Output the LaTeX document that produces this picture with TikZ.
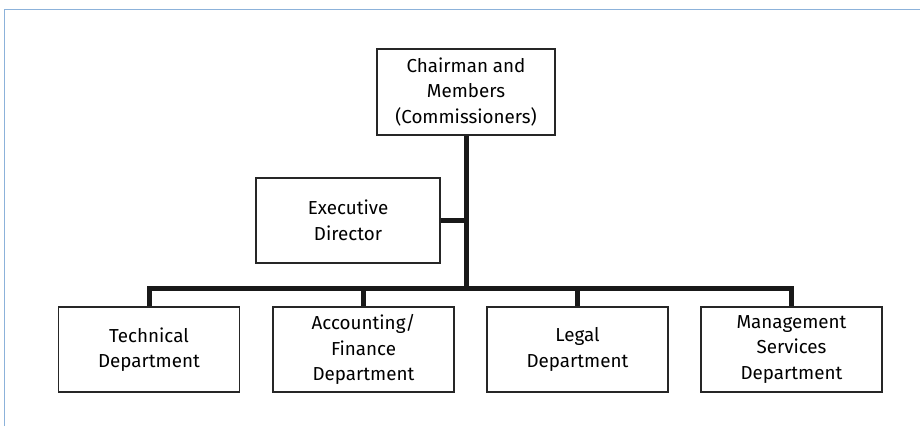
\documentclass[tikz,border=0pt]{standalone}
\usepackage{fontspec}
\setmainfont{Fira Sans}
\definecolor{framec}{RGB}{140,178,218}
\begin{document}
\begin{tikzpicture}[x=1pt,y=-1pt,
  orgbox/.style={draw=black!85,line width=1.3pt,minimum width=181pt,minimum height=85pt,
    align=center,inner sep=2pt,font=\fontsize{18.8}{25.5}\selectfont},
  conn/.style={line width=5pt,black!90},
  frameline/.style={draw=framec,line width=1.5pt}]
\useasboundingbox (0,0) rectangle (920,426);
\fill[white] (0,0) rectangle (920,426);
\draw[frameline] (4.5,426) -- (4.5,9.5) -- (920,9.5);
\node[orgbox,minimum width=178pt,minimum height=86pt] (ch) at (466,92) {Chairman and\\Members\\(Commissioners)};
\node[orgbox,minimum width=184pt] (ed) at (348,220.5) {Executive\\Director};
\node[orgbox] (tech) at (149,349.5) {Technical\\Department};
\node[orgbox] (acc) at (363.5,349.5) {Accounting/\\Finance\\Department};
\node[orgbox] (leg) at (577.5,349.5) {Legal\\Department};
\node[orgbox] (mgt) at (791.5,349.5) {Management\\Services\\Department};
\coordinate (bar) at (466,288);
\coordinate (tl) at (149,288);
\coordinate (tr) at (793,288);
\draw[conn] (ch.south) -- (bar);
\draw[conn] (ed.east) -- (ed.east -| bar);
\draw[conn] (tech.north) -- (tech.north |- tl) -- (mgt.north |- tr) -- (mgt.north);
\draw[conn] (acc.north) -- (acc.north |- tl);
\draw[conn] (leg.north) -- (leg.north |- tl);
\end{tikzpicture}
\end{document}
